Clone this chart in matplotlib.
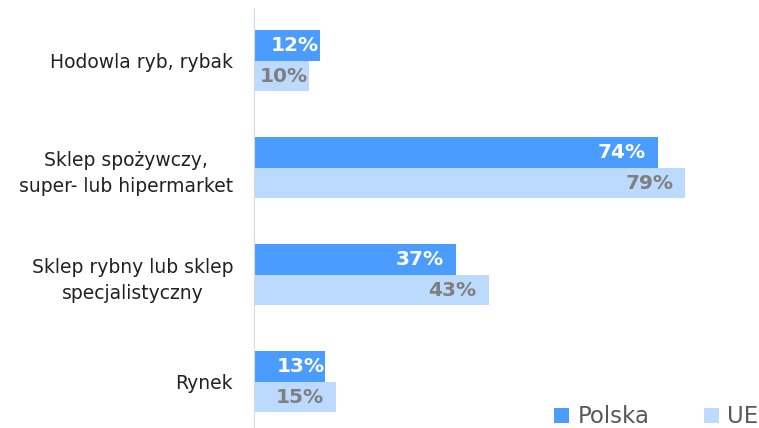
import matplotlib.pyplot as plt
import numpy as np

categories = ['Hodowla ryb, rybak', 'Sklep spożywczy,\nsuper- lub hipermarket',
              'Sklep rybny lub sklep\nspecjalistyczny', 'Rynek']
polska = [12, 74, 37, 13]
ue = [10, 79, 43, 15]

c_pl = '#4a9dff'
c_ue = '#bcdafd'

fig = plt.figure(figsize=(7.59, 4.28), dpi=100)
ax = fig.add_axes([254 / 759, 0, 1 - 254 / 759, 420 / 428])

y = np.arange(len(categories))
h = 0.285
ax.barh(y - h / 2, polska, height=h, color=c_pl, label='Polska')
ax.barh(y + h / 2, ue, height=h, color=c_ue, label='UE')


def off(v):
    # short bars: label sits flush with the bar end
    return 0.1 if v < 14 else 2.2


for i in range(len(categories)):
    ax.text(polska[i] - off(polska[i]), y[i] - h / 2, f'{polska[i]}%', ha='right',
            va='center', color='white', fontsize=14.5, fontweight='bold')
    ax.text(ue[i] - off(ue[i]), y[i] + h / 2, f'{ue[i]}%', ha='right',
            va='center', color='#7f7f7f', fontsize=14.5, fontweight='bold')

ax.set_xlim(0, 92.5)
ax.set_ylim(3.43, -0.495)
ax.set_yticks(y)
ax.set_yticklabels(categories, fontsize=13.5, color='#222222',
                   multialignment='center', linespacing=1.45)
ax.tick_params(axis='y', length=0, pad=15)
ax.set_xticks([])
for s in ['top', 'right', 'bottom']:
    ax.spines[s].set_visible(False)
ax.spines['left'].set_color('#d9d9d9')

leg = ax.legend(loc='lower right', bbox_to_anchor=(1.04, -0.05), ncol=2, frameon=False,
                fontsize=16.5, handlelength=0.65, handleheight=0.65, columnspacing=2.4,
                handletextpad=0.35)
for t in leg.get_texts():
    t.set_color('#595959')

fig.savefig('out.png', dpi=100)
